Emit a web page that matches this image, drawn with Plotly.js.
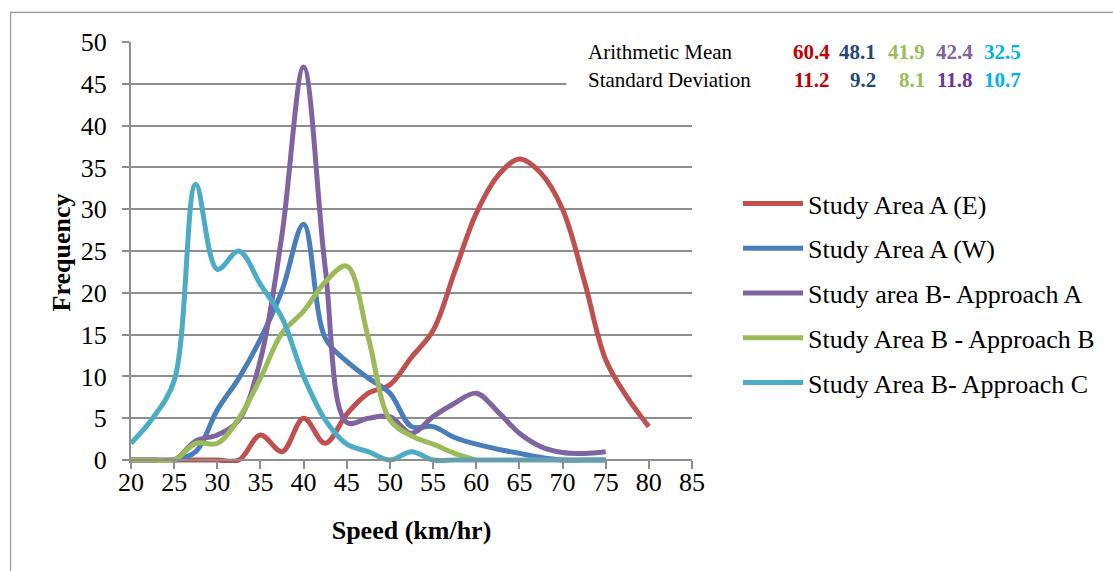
<!DOCTYPE html>
<html>
<head>
<meta charset="utf-8">
<script src="https://cdn.plot.ly/plotly-3.0.1.min.js"></script>
<style>
  html, body { margin: 0; padding: 0; background: #ffffff; }
  #chart { width: 1113px; height: 571px; }
</style>
</head>
<body>
<div id="chart"></div>
<script>
// Speed classes (km/hr), 2.5 km/hr steps
const speeds = [20, 22.5, 25, 27.5, 30, 32.5, 35, 37.5, 40, 42.5, 45, 47.5, 50,
                52.5, 55, 57.5, 60, 62.5, 65, 67.5, 70, 72.5, 75, 77.5, 80];

// Frequency per speed class for each survey location
const areaAEast = [0, 0, 0, 0, 0, 0, 3, 1, 5, 2, 5.5, 8, 9,
                   12.3, 15.5, 22.5, 29.5, 34, 36, 34.3, 30, 21.5, 12, 7.5, 4];
const areaAWest = [0, 0, 0, 1, 6, 9.8, 14.5, 20.3, 28.2, 14.6, 11.8, 9.8, 8,
                   4, 4, 2.7, 1.9, 1.3, 0.8, 0.3, 0, 0, 0];
const areaBApproachA = [0, 0, 0, 2.3, 3, 4.8, 12, 27, 47, 23, 4.5, 5, 5.2,
                        3.2, 5.2, 6.8, 8, 5.8, 3.2, 1.6, 0.9, 0.8, 1];
const areaBApproachB = [0, 0, 0, 2, 2, 5, 9.8, 15.2, 17.8, 21.3, 23.2, 14.6, 4.8,
                        2.9, 1.9, 0.8, 0];
const areaBApproachC = [2, 5, 9.5, 33, 22.8, 25, 21, 17, 10, 4.8, 1.9, 1, 0,
                        1, 0, 0, 0, 0, 0, 0, 0, 0, 0];

const seriesNames = ['Study Area A (E)', 'Study Area A (W)', 'Study area B- Approach A',
                     'Study Area B - Approach B', 'Study Area B- Approach C'];
const seriesValues = [areaAEast, areaAWest, areaBApproachA, areaBApproachB, areaBApproachC];
const seriesColors = ['#C0504D', '#4A7EBB', '#8064A2', '#9BBB59', '#4BACC6'];

// Summary statistics table
const statLabels = ['Arithmetic Mean', 'Standard Deviation'];
const meanValues = [60.4, 48.1, 41.9, 42.4, 32.5];
const sdValues = [11.2, 9.2, 8.1, 11.8, 10.7];
const meanColors = ['#C00000', '#1F497D', '#9BBB59', '#8064A2', '#00B0F0'];
const sdColors = ['#C00000', '#1F497D', '#9BBB59', '#7030A0', '#00B0F0'];

const xTicks = [20, 25, 30, 35, 40, 45, 50, 55, 60, 65, 70, 75, 80, 85];
const yTicks = [0, 5, 10, 15, 20, 25, 30, 35, 40, 45, 50];

// Page geometry
const W = 1113, H = 571;
const M = { l: 130.5, r: 421.3, t: 41.7, b: 108.1 };
const plotW = W - M.l - M.r, plotH = H - M.t - M.b;
const yMin = -0.35, yMax = 50;
const px2x = px => (px - M.l) / plotW;
const py2y = py => (H - M.b - py) / plotH;

const serif = 'Liberation Serif, Times New Roman, serif';
const gridGray = '#8e8e8e';

const traces = seriesValues.map((vals, i) => ({
  type: 'scatter',
  mode: 'lines',
  name: seriesNames[i],
  legendgroup: 'g' + i,
  x: speeds.slice(0, vals.length),
  y: vals,
  line: { color: seriesColors[i], width: 5, shape: 'spline', smoothing: 1 },
  hoverinfo: 'x+y+name'
}));

const annotations = [];
const colRight = [832, 878, 927, 975, 1023];
const rowY = [52, 80];
statLabels.forEach((lab, r) => {
  annotations.push({
    xref: 'paper', yref: 'paper', x: px2x(586), y: py2y(rowY[r]),
    xanchor: 'left', yanchor: 'middle', showarrow: false, text: lab,
    font: { family: serif, size: 21, color: '#000000' }
  });
  const vals = r === 0 ? meanValues : sdValues;
  const cols = r === 0 ? meanColors : sdColors;
  vals.forEach((v, c) => {
    annotations.push({
      xref: 'paper', yref: 'paper', x: px2x(colRight[c]), y: py2y(rowY[r]),
      xanchor: 'right', yanchor: 'middle', showarrow: false,
      text: '<b>' + v.toFixed(1) + '</b>',
      font: { family: serif, size: 21, color: cols[c] }
    });
  });
});

const layout = {
  width: W, height: H,
  margin: M,
  paper_bgcolor: '#ffffff',
  plot_bgcolor: '#ffffff',
  showlegend: true,
  font: { family: serif, color: '#000000' },
  xaxis: {
    range: [20, 85],
    tickmode: 'array', tickvals: xTicks, ticktext: xTicks.map(String),
    showgrid: false, zeroline: false,
    showline: true, linecolor: gridGray, linewidth: 2,
    anchor: 'free', position: (0 - yMin) / (yMax - yMin),
    ticks: 'outside', ticklen: 8, tickwidth: 2, tickcolor: gridGray,
    ticklabelstandoff: -9,
    tickfont: { family: serif, size: 26, color: '#000000' },
    title: { text: '<b>Speed (km/hr)</b>', font: { family: serif, size: 26, color: '#000000' }, standoff: 24 },
    automargin: false, fixedrange: true
  },
  yaxis: {
    range: [yMin, yMax],
    tickmode: 'array', tickvals: yTicks, ticktext: yTicks.map(String),
    showgrid: true, gridcolor: gridGray, gridwidth: 2,
    zeroline: false,
    showline: true, linecolor: gridGray, linewidth: 2,
    ticks: 'outside', ticklen: 7, tickwidth: 2, tickcolor: gridGray,
    ticklabelstandoff: 10,
    tickfont: { family: serif, size: 26, color: '#000000' },
    title: { text: '<b>Frequency</b>', font: { family: serif, size: 26, color: '#000000' }, standoff: 3 },
    automargin: false, fixedrange: true
  },
  legend: {
    xref: 'container', yref: 'container',
    x: 738 / W, y: 1 - 180 / H, xanchor: 'left', yanchor: 'top',
    font: { family: serif, size: 26, color: '#000000' },
    bgcolor: 'rgba(0,0,0,0)', borderwidth: 0,
    tracegroupgap: 8, itemwidth: 60,
    traceorder: 'grouped'
  },
  shapes: [
    // chart frame
    { type: 'rect', xref: 'paper', yref: 'paper', layer: 'below',
      x0: px2x(10), x1: px2x(1130), y0: py2y(590), y1: py2y(12),
      line: { color: '#9a9a9a', width: 1.2 }, fillcolor: 'rgba(0,0,0,0)' },
    // white panel behind the statistics table
    { type: 'rect', xref: 'paper', yref: 'paper', layer: 'above',
      x0: px2x(566), x1: px2x(1060), y0: py2y(104), y1: py2y(28),
      line: { width: 0 }, fillcolor: '#ffffff' }
  ],
  annotations: annotations
};

Plotly.newPlot('chart', traces, layout, { displayModeBar: false, staticPlot: true });
</script>
</body>
</html>
